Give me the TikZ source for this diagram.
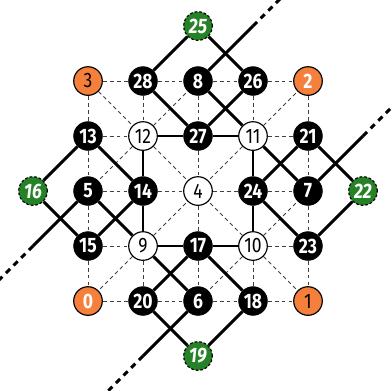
\documentclass[tikz,border=0pt]{standalone}
\usepackage{fontspec}
\setmainfont[FakeStretch=0.84]{Fira Sans}
\usepackage{tikz}
\usetikzlibrary{backgrounds}
\definecolor{nodeorange}{RGB}{245,128,60}
\definecolor{nodegreen}{RGB}{38,130,38}

\begin{document}
\begin{tikzpicture}[
    every node/.style={circle, inner sep=0pt, minimum size=14.8pt,
      font=\fontsize{10.8}{11}\selectfont},
    blk/.style={fill=black, draw=black, text=white,
      font=\fontsize{10.8}{11}\selectfont\bfseries},
    wht/.style={fill=white, draw=black, line width=0.6pt},
    orgd/.style={fill=nodeorange, draw=black, line width=0.6pt},
    orgw/.style={orgd, text=white, font=\fontsize{10.8}{11}\selectfont\bfseries},
    grn/.style={fill=nodegreen, draw=black, line width=0.6pt,
      dash pattern=on 1.4pt off 1pt, text=white,
      font=\fontsize{10.8}{11}\selectfont\bfseries\itshape},
    grid/.style={line width=0.45pt, dash pattern=on 2pt off 1.6pt, black!75},
    link/.style={line width=1.5pt},
    tail/.style={line width=1.5pt, dash pattern=on 3pt off 2.6pt}]

    \useasboundingbox (-3.6, -3.636) rectangle (3.509, 3.473);

    % nodes of the grid
    \foreach \lbl/\st [count=\k from 0] in {3/orgd, 28/blk, 8/blk, 26/blk, 2/orgw,
        13/blk, 12/wht, 27/blk, 11/wht, 21/blk,
        5/blk, 14/blk, 4/wht, 24/blk, 7/blk,
        15/blk, 9/wht, 17/blk, 10/wht, 23/blk,
        0/orgw, 20/blk, 6/blk, 18/blk, 1/orgd} {
      \node[\st] (n\lbl) at ({mod(\k, 5) - 2}, {2 - floor(\k/5)}) {\lbl};
    }
    % outer nodes
    \node[grn] (n25) at (0, 3) {25};
    \node[grn] (n16) at (-3, 0) {16};
    \node[grn] (n22) at (3, 0) {22};
    \node[grn] (n19) at (0, -3) {19};
    % ends of the long lines
    \coordinate (t8a) at (1, 3);   \coordinate (t8b) at (1.5, 3.5);
    \coordinate (t7a) at (3, 1);   \coordinate (t7b) at (3.55, 1.55);
    \coordinate (t5a) at (-3, -1); \coordinate (t5b) at (-3.62, -1.62);
    \coordinate (t6a) at (-1, -3); \coordinate (t6b) at (-1.65, -3.65);

    \begin{pgfonlayer}{background}
      % dashed grid
      \foreach \a/\b in {3/28, 28/8, 8/26, 26/2, 13/12, 11/21, 5/14, 14/4,
          4/24, 24/7, 15/9, 10/23, 0/20, 20/6, 6/18, 18/1,
          3/13, 13/5, 5/15, 15/0, 28/12, 9/20, 8/27, 27/4, 4/17, 17/6,
          26/11, 10/18, 2/21, 21/7, 7/23, 23/1,
          3/12, 12/8, 12/5, 12/4, 11/2, 11/4, 9/4, 9/0, 10/4, 10/7, 10/6, 10/1} {
        \draw[grid] (n\a) -- (n\b);
      }
      % solid links
      \foreach \a/\b in {25/28, 25/26, 16/13, 16/15, 22/21, 22/23, 19/20, 19/18,
          28/27, 8/11, 27/26, 12/27, 27/11, 12/14, 14/9, 11/24, 24/10,
          13/14, 15/14, 5/9, 11/7, 21/24, 24/23, 9/17, 17/10, 17/20, 9/6, 17/18} {
        \draw[link] (n\a) -- (n\b);
      }
      % long lines
      \foreach \s in {8, 7, 5, 6} {
        \draw[link] (n\s) -- (t\s a);
        \draw[tail] (t\s a) -- (t\s b);
      }
    \end{pgfonlayer}

  \end{tikzpicture}
\end{document}
